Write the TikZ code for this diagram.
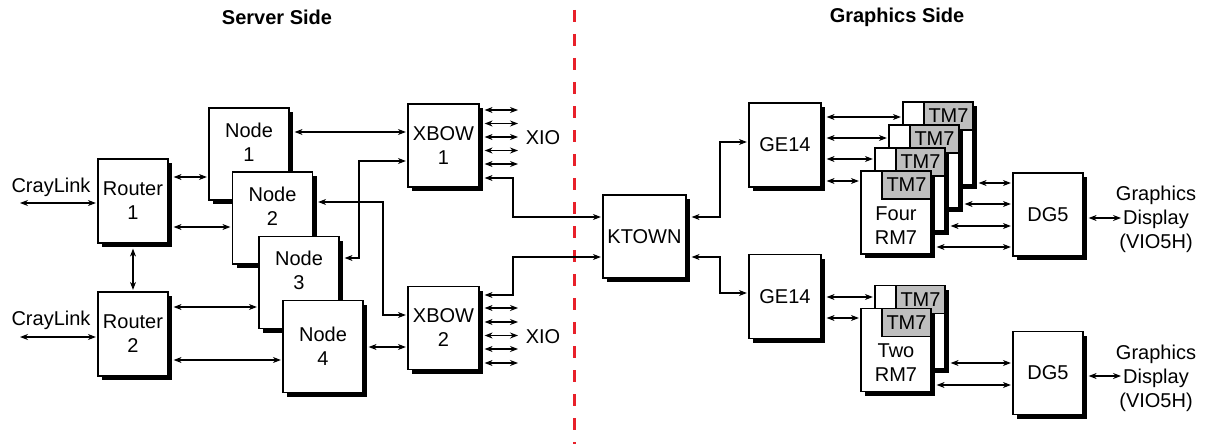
\documentclass[tikz,border=0pt]{standalone}
\usepackage{fontspec}
\setmainfont{Liberation Sans}
\usepackage{tikz}
\usetikzlibrary{arrows.meta,shadows}
\definecolor{cdiv}{HTML}{E8202A}
\definecolor{ctm}{HTML}{BEBEBE}

\begin{document}
\begin{tikzpicture}[x=1pt,y=-1pt,line width=1.2pt,>={Stealth[length=8pt,width=6pt]},
  font=\fontsize{20}{24}\selectfont,
  box/.style={draw,fill=white,inner sep=0pt,align=center,
    drop shadow={shadow xshift=4pt,shadow yshift=-4pt,fill=black,opacity=1}},
  rbox/.style={box,minimum width=70pt,minimum height=84pt},
  nbox/.style={box,minimum width=80pt,minimum height=92pt},
  sbox/.style={box,minimum width=71pt,minimum height=83pt},
  board/.style={box,minimum width=70pt,minimum height=83pt},
  tm/.style={draw,fill=ctm,inner sep=0pt,minimum width=49pt,minimum height=28pt,anchor=north east},
  up/.style={align=center,yshift=12pt},
  down/.style={align=center,yshift=-13pt},
  link/.style={<->,shorten <=5pt,shorten >=1.5pt}]
  \useasboundingbox (0,0) rectangle (1207,444);

  % titles and divider
  \node[font=\fontsize{20}{24}\selectfont\bfseries] (ts) at (277,17) {Server Side};
  \node[font=\fontsize{20}{24}\selectfont\bfseries] (tg) at (897,17) {Graphics Side};
  \draw[cdiv,line width=3pt,dash pattern=on 12pt off 12pt] (574,10) -- (574,444);

  % server side
  \node[rbox] (r1) at (133,201) {Router\\1};
  \node[rbox] (r2) at (133,334) {Router\\2};
  \node[nbox,label={[up]center:{Node\\1}}] (n1) at (249,154) {};
  \node[nbox,label={[up]center:{Node\\2}}] (n2) at (272.5,218) {};
  \node[nbox,label={[up]center:{Node\\3}}] (n3) at (299,282.5) {};
  \node[nbox] (n4) at (323,346.5) {Node\\4};
  \node[sbox] (x1) at (443.5,145.5) {XBOW\\1};
  \node[sbox] (x2) at (443.5,328) {XBOW\\2};
  \node (cla) at (51,187) {CrayLink};
  \node (clb) at (51,320) {CrayLink};
  \node (xioa) at (543,138) {XIO};
  \node (xiob) at (543,337) {XIO};
  \coordinate (ca) at (15,203);
  \coordinate (cb) at (15,337);

  % graphics side
  \node[sbox,minimum width=83pt] (kt) at (644.5,236.5) {KTOWN};
  \node[rbox,minimum width=72pt] (ga) at (785,145) {GE14};
  \node[rbox,minimum width=72pt] (gb) at (785,296.5) {GE14};
  \foreach \i/\x/\y in {4/938/143.5,3/924/166.5,2/910/189.5} {
    \node[board] (ba\i) at (\x,\y) {};
    \node[tm] (ta\i) at (ba\i.north east) {TM7};
  }
  \node[board,label={[down]center:{Four\\RM7}}] (ba1) at (896,212.5) {};
  \node[tm] (ta1) at (ba1.north east) {TM7};
  \node[board] (bb2) at (910,327) {};
  \node[tm] (tb2) at (bb2.north east) {TM7};
  \node[board,label={[down]center:{Two\\RM7}}] (bb1) at (896,350) {};
  \node[tm] (tb1) at (bb1.north east) {TM7};
  \node[sbox,minimum width=70pt] (dga) at (1048,214.5) {DG5};
  \node[sbox,minimum width=70pt] (dgb) at (1048,373) {DG5};
  \node[align=center,inner sep=0pt] (gda) at (1156,219) {Graphics\\Display\\(VIO5H)};
  \node[align=center,inner sep=0pt] (gdb) at (1156,378) {Graphics\\Display\\(VIO5H)};
  \coordinate (da) at (1122.5,218);
  \coordinate (db) at (1122.5,376);

  % links on the server side
  \draw[link] (ca) -- (ca -| r1.west);
  \draw[link] (cb) -- (cb -| r2.west);
  \draw[link] (r1.east |- 0,177) -- (n1.west |- 0,177);
  \draw[link] (r1.east |- 0,227) -- (n2.west |- 0,227);
  \draw[link] (r1.south) -- (r2.north);
  \draw[link] (r2.east |- 0,307) -- (n3.west |- 0,307);
  \draw[link] (r2.east |- 0,360) -- (n4.west |- 0,360);
  \draw[link] (n1.east |- 0,132) -- (x1.west |- 0,132);
  \draw[link] (n3.east |- 0,258) -| (359,161) -- (x1.west |- 0,161);
  \draw[link] (n2.east |- 0,202) -| (383,315) -- (x2.west |- 0,315);
  \draw[link] (n4.east |- 0,347) -- (x2.west |- 0,347);
  \foreach \y [count=\i] in {110,123.5,137,150.5,164} {
    \coordinate (xa\i) at (519.5,\y);
    \draw[link] (x1.east |- xa\i) -- (xa\i);
  }
  \foreach \y [count=\i] in {308,322,335.5,349,363} {
    \coordinate (xb\i) at (519.5,\y);
    \draw[link] (x2.east |- xb\i) -- (xb\i);
  }
  \draw[link] (x1.east |- 0,178) -| (513,217) -- (kt.west |- 0,217);
  \draw[link] (x2.east |- 0,295) -| (513,257) -- (kt.west |- 0,257);

  % links on the graphics side
  \draw[link] (kt.east |- 0,217) -| (720,142) -- (ga.west |- 0,142);
  \draw[link] (kt.east |- 0,257) -| (720,293) -- (gb.west |- 0,293);
  \foreach \i/\y in {4/117,3/138,2/159,1/181}
    \draw[link] (ga.east |- 0,\y) -- (ba\i.west |- 0,\y);
  \foreach \i/\y in {4/183,3/204,2/226,1/247}
    \draw[link] (ba\i.east |- 0,\y) -- (dga.west |- 0,\y);
  \draw[link] (gb.east |- 0,297) -- (bb2.west |- 0,297);
  \draw[link] (gb.east |- 0,318) -- (bb1.west |- 0,318);
  \draw[link] (bb2.east |- 0,363) -- (dgb.west |- 0,363);
  \draw[link] (bb1.east |- 0,385) -- (dgb.west |- 0,385);
  \draw[link] (dga.east |- da) -- (da);
  \draw[link] (dgb.east |- db) -- (db);
\end{tikzpicture}
\end{document}
